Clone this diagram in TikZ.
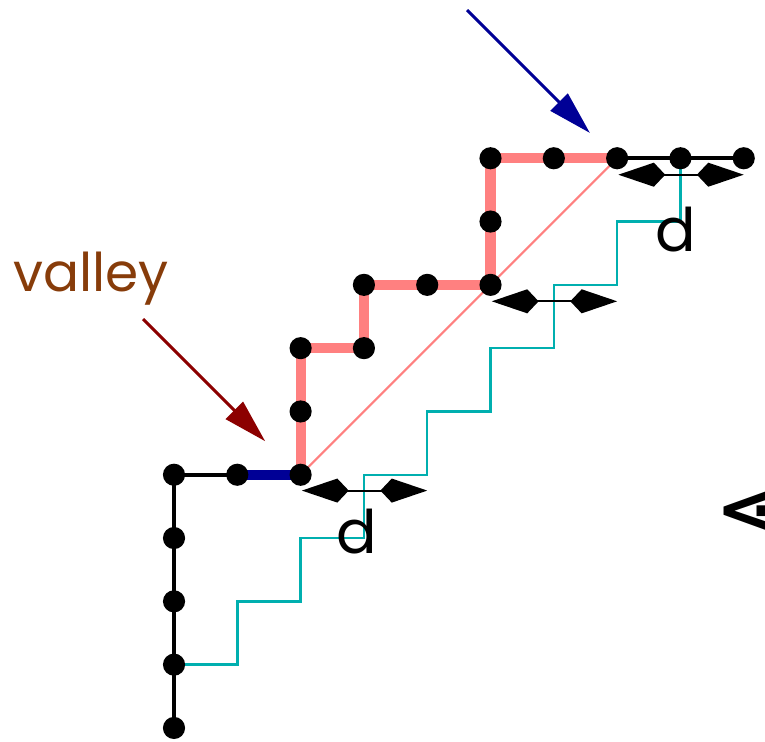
\documentclass[tikz,border=0pt]{standalone}
\usepackage{fontspec}
\usepackage{tikz}
\usetikzlibrary{arrows.meta}
\usetikzlibrary{calc}
\newfontfamily\labelfont{Poppins}
\newfontfamily\symbfont{DejaVu Sans}
\definecolor{salmon}{RGB}{255,128,128}
\definecolor{stairteal}{RGB}{0,175,175}
\definecolor{darkblue}{RGB}{0,0,150}
\definecolor{darkred}{RGB}{140,0,0}
\definecolor{brownlabel}{RGB}{135,60,10}

\tikzset{
  latpath/.style={line width=1.8pt, black},
  redpath/.style={line width=4.6pt, salmon},
  bluepath/.style={line width=4.6pt, darkblue},
  diag/.style={line width=0.9pt, salmon},
  stair/.style={line width=1.1pt, stairteal},
  dot/.style={circle, fill=black, inner sep=0pt, minimum size=0.35cm},
  dist/.style={line width=0.9pt, {Kite[length=0.74cm,width=0.38cm,inset=0.18cm]}-{Kite[length=0.74cm,width=0.38cm,inset=0.18cm]}},
  pointer/.style={line width=1.3pt, -{Triangle[length=0.69cm,width=0.38cm]}},
}

\begin{document}
\begin{tikzpicture}[x=1cm,y=1cm]
\useasboundingbox (-2.749,-0.221) rectangle (9.336,11.5);

%---------------------------------------
% Lattice path points
%---------------------------------------
\foreach \px/\py [count=\k from 0] in {0/0,0/1,0/2,0/3,0/4,1/4,2/4,2/5,2/6,3/6,3/7,4/7,5/7,5/8,5/9,6/9,7/9,8/9,9/9}
  \coordinate (p\k) at (\px,\py);

% staircase below the diagonal
\draw[stair] (p1) \foreach \i in {1,...,8} { -| (\i,\i+1) };

% diagonal
\draw[diag] (p6) -- (p16);

% path pieces
\draw[latpath] (p0) -- (p1) -- (p2) -- (p3) -- (p4) -- (p5);
\draw[bluepath] (p5) -- (p6);
\draw[redpath, line join=round] (p6) -- (p7) -- (p8) -- (p9) -- (p10) -- (p11)
  -- (p12) -- (p13) -- (p14) -- (p15) -- (p16);
\draw[latpath] (p16) -- (p17) -- (p18);

% dots
\foreach \k in {0,...,18}
  \node[dot] (n\k) at (p\k) {};

%---------------------------------------
% Distance markers
%---------------------------------------
\coordinate (da1) at ($(p6)+(0.02,-0.25)$);
\coordinate (db1) at ($(p6)+(2,-0.25)$);
\coordinate (da2) at ($(p12)+(0.02,-0.26)$);
\coordinate (db2) at ($(p12)+(2,-0.26)$);
\coordinate (da3) at ($(p16)+(0.02,-0.26)$);
\coordinate (db3) at ($(p16)+(2,-0.26)$);
\draw[dist] (da1) -- (db1);
\draw[dist] (da2) -- (db2);
\draw[dist] (da3) -- (db3);

\node[font=\labelfont\fontsize{27}{30}\selectfont] (d1) at (2.89,3.11) {d};
\node[font=\labelfont\fontsize{27}{30}\selectfont] (d2) at (7.93,7.87) {d};

%---------------------------------------
% Annotations
%---------------------------------------
\node[font=\labelfont\fontsize{24}{30}\selectfont, text=brownlabel, anchor=base]
  (valley) at (-1.31,6.89) {valley};
\coordinate (vstart) at (-0.49,6.46);
\coordinate (vtip) at (1.44,4.53);
\draw[pointer, darkred] (vstart) -- (vtip);

\coordinate (bstart) at (4.63,11.34);
\coordinate (btip) at (6.57,9.40);
\draw[pointer, darkblue] (bstart) -- (btip);

\node[font=\symbfont\bfseries\fontsize{32}{34}\selectfont, anchor=west, inner sep=0pt]
  (ldot) at (8.57,3.41) {⋖};

\end{tikzpicture}
\end{document}
